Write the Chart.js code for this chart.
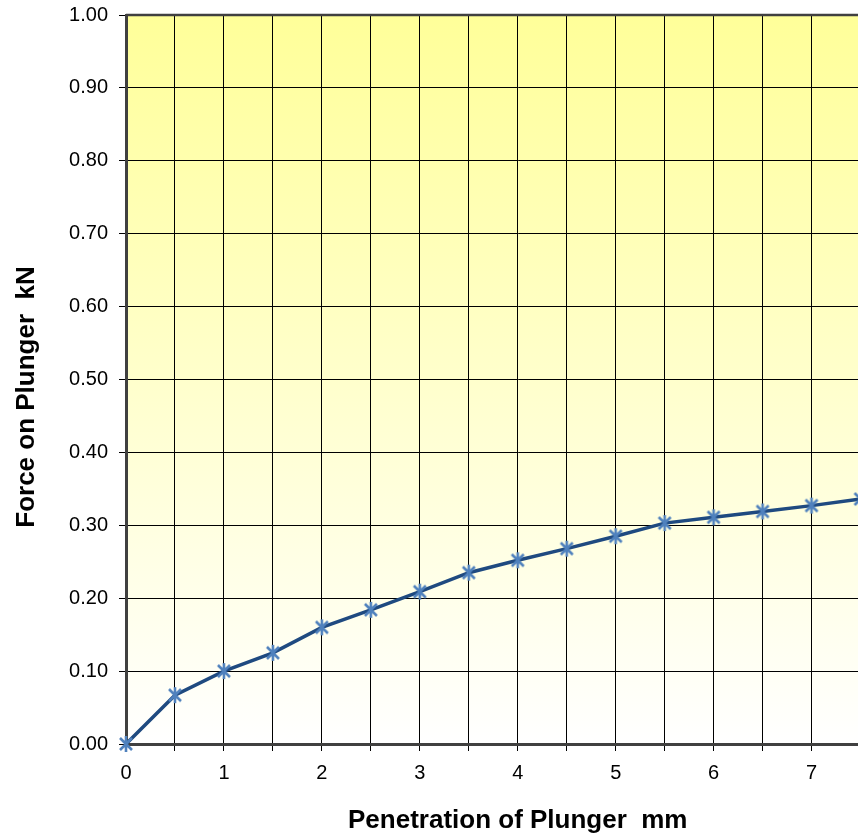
<!DOCTYPE html>
<html><head><meta charset="utf-8">
<script src="https://cdn.jsdelivr.net/npm/chart.js@4/dist/chart.umd.min.js"></script>
<style>
html,body{margin:0;padding:0;overflow:hidden;background:#fff;width:858px;height:836px}
#wrap{position:absolute;left:0;top:0;width:921px;height:836px}
</style>
</head><body><div id="wrap"><canvas id="c" width="921" height="836"></canvas></div>
<script>
const penetration = [0, 0.5, 1, 1.5, 2, 2.5, 3, 3.5, 4, 4.5, 5, 5.5, 6, 6.5, 7, 7.5];
const force = [0, 0.067, 0.100, 0.125, 0.160, 0.184, 0.209, 0.235, 0.252, 0.268, 0.285, 0.303, 0.311, 0.319, 0.327, 0.336];
const xTitle = 'Penetration of Plunger  mm';
const yTitle = 'Force on Plunger  kN';

const FONT = "'Liberation Sans', Arial, sans-serif";

// asterisk marker (X plus vertical stroke)
const mk = document.createElement('canvas');
mk.width = 18; mk.height = 18;
const g = mk.getContext('2d');
g.strokeStyle = '#4F81BD'; g.lineWidth = 2.6; g.lineCap = 'butt';
g.beginPath();
g.moveTo(3, 3); g.lineTo(15, 15);
g.moveTo(15, 3); g.lineTo(3, 15);
g.moveTo(9, 1); g.lineTo(9, 17);
g.stroke();

const bgPlugin = {
  id: 'bg',
  beforeDraw(chart) {
    const {ctx, chartArea: a} = chart;
    const grad = ctx.createLinearGradient(0, a.top, 0, a.bottom);
    grad.addColorStop(0, '#FFFF99');
    grad.addColorStop(1, '#FFFFFF');
    ctx.save();
    ctx.fillStyle = grad;
    ctx.fillRect(a.left, a.top, a.right - a.left, a.bottom - a.top);
    ctx.restore();
  },
  afterDraw(chart) {
    const {ctx, chartArea: a} = chart;
    ctx.save();
    ctx.strokeStyle = '#404040';
    ctx.lineWidth = 2.5;
    ctx.beginPath();
    ctx.moveTo(a.left, a.top);
    ctx.lineTo(a.right, a.top);
    ctx.stroke();
    ctx.translate(27, 397);
    ctx.rotate(-Math.PI / 2);
    ctx.fillStyle = '#000';
    ctx.font = 'bold 26px ' + FONT;
    ctx.textAlign = 'center';
    ctx.textBaseline = 'middle';
    ctx.fillText(yTitle, 0, 0);
    ctx.restore();
  }
};

new Chart(document.getElementById('c'), {
  type: 'line',
  data: {
    datasets: [{
      data: penetration.map((x, i) => ({x: x, y: force[i]})),
      borderColor: '#1F4A80',
      borderWidth: 3.5,
      pointStyle: mk,
      pointRadius: 8,
      pointHoverRadius: 8,
      tension: 0,
      fill: false,
      clip: false
    }]
  },
  options: {
    responsive: false,
    devicePixelRatio: 1,
    animation: false,
    events: [],
    layout: {padding: {top: 15, left: 0, right: 2, bottom: 0}},
    plugins: {legend: {display: false}, tooltip: {enabled: false}},
    scales: {
      x: {
        type: 'linear',
        min: 0, max: 8,
        afterFit(s) { s.height = 92; s.paddingLeft = 0; s.paddingRight = 0; },
        ticks: {
          stepSize: 0.5, autoSkip: false, maxRotation: 0, padding: 10,
          color: '#000', font: {family: FONT, size: 20},
          callback: v => Number.isInteger(v) ? String(v) : ''
        },
        grid: {color: '#000', lineWidth: 1, tickLength: 7},
        border: {color: '#404040', width: 3},
        title: {display: true, text: xTitle, color: '#000',
                font: {family: FONT, size: 26, weight: 'bold'}, padding: {top: 0, bottom: 0}}
      },
      y: {
        min: 0, max: 1,
        afterFit(s) { s.width = 126; s.paddingTop = 0; s.paddingBottom = 0; },
        ticks: {
          stepSize: 0.1, padding: 11, color: '#000',
          font: {family: FONT, size: 20},
          callback: v => Number(v).toFixed(2)
        },
        grid: {color: '#000', lineWidth: 1, tickLength: 7},
        border: {color: '#404040', width: 3}
      }
    }
  },
  plugins: [bgPlugin]
});
</script>
</body></html>
